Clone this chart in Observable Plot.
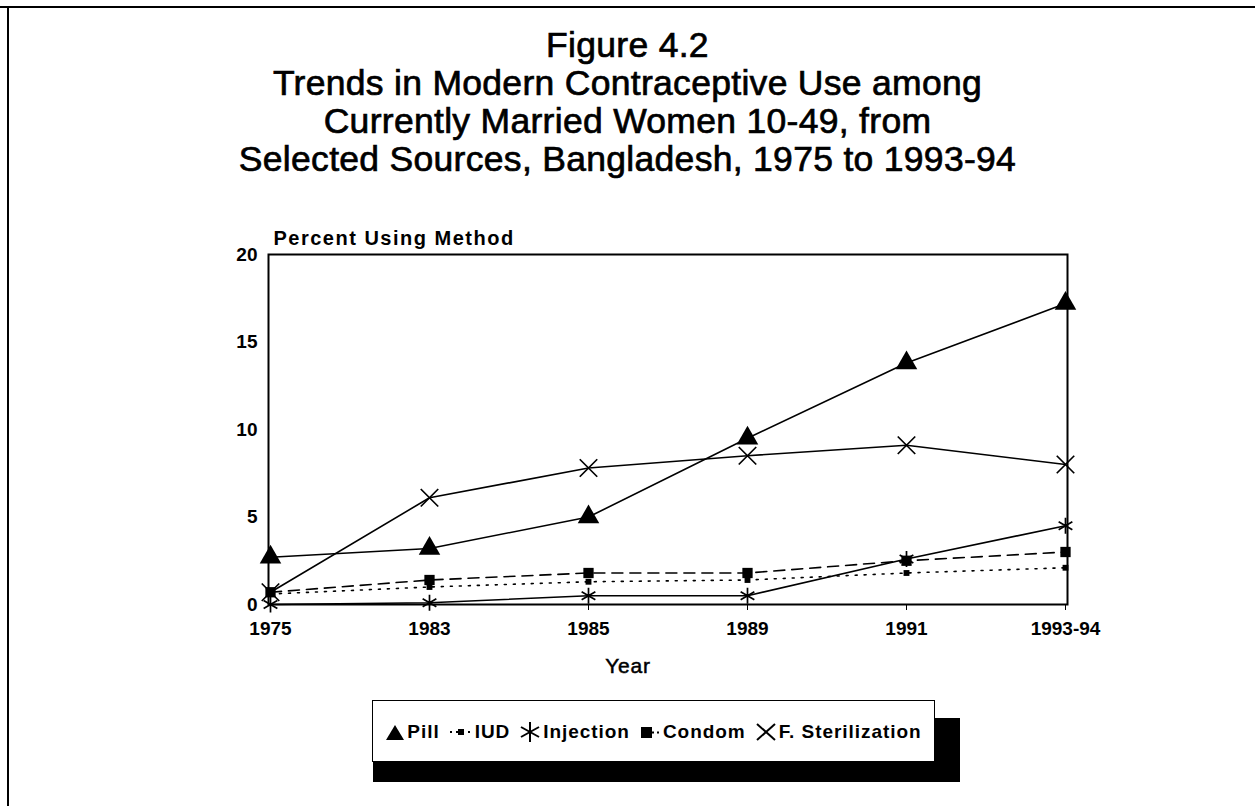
<!DOCTYPE html>
<html>
<head>
<meta charset="utf-8">
<script src="https://cdn.jsdelivr.net/npm/d3@7"></script>
<script src="https://cdn.jsdelivr.net/npm/@observablehq/plot@0.6"></script>
<style>
  body { margin: 0; background: #fff; width: 1255px; height: 806px; overflow: hidden; position: relative;
         font-family: "Liberation Sans", Arial, sans-serif; color: #000; }
  #frameTop { position: absolute; left: 0; top: 6px; width: 1255px; height: 2px; background: #000; }
  #frameLeft { position: absolute; left: 7px; top: 6px; width: 2px; height: 800px; background: #000; }
  #title { position: absolute; left: 0; top: 26px; width: 1255px; text-align: center;
           font-size: 35.5px; line-height: 38px; -webkit-text-stroke: 0.7px #000; letter-spacing: 0.3px; }
  #chart { position: absolute; left: 0; top: 200px; }
  #legShadow { position: absolute; left: 373px; top: 718px; width: 587px; height: 64px; background: #000; }
  #legend { position: absolute; left: 372px; top: 700px; width: 561px; height: 58px; border: 1.5px solid #000;
            background: #fff; display: flex; align-items: center; justify-content: center;
            font-weight: bold; font-size: 19px; gap: 9px; letter-spacing: 0.95px; padding-top: 2px; box-sizing: content-box; }
  #legend .item { display: flex; align-items: center; gap: 2px; }
</style>
</head>
<body>
<div id="frameTop"></div>
<div id="frameLeft"></div>
<div id="title">Figure 4.2<br>Trends in Modern Contraceptive Use among<br>Currently Married Women 10-49, from<br>Selected Sources, Bangladesh, 1975 to 1993-94</div>
<div id="chart"></div>
<div id="legShadow"></div>
<div id="legend"></div>
<script>
// ---- data ----
const years = ["1975", "1983", "1985", "1989", "1991", "1993-94"];
const methods = ["Pill", "IUD", "Injection", "Condom", "F. Sterilization"];
const pill = [2.7, 3.2, 5.0, 9.5, 13.8, 17.2];
const iud = [0.6, 1.0, 1.3, 1.4, 1.8, 2.1];
const injection = [0.0, 0.1, 0.5, 0.5, 2.6, 4.5];
const condom = [0.7, 1.4, 1.8, 1.8, 2.5, 3.0];
const sterilization = [0.7, 6.1, 7.8, 8.5, 9.1, 8.0];
const yTicks = [0, 5, 10, 15, 20];
const yLabel = "Percent Using Method";
const xLabel = "Year";

const seriesValues = [pill, iud, injection, condom, sterilization];
const rows = methods.flatMap((m, k) => years.map((y, i) => ({year: y, method: m, value: seriesValues[k][i]})));

const styles = {
  "Pill": {dash: null, symbol: "triangle", r: 8, fill: "#000", stroke: "none"},
  "IUD": {dash: "2,7", symbol: "square", r: 3.3, fill: "#000", stroke: "none"},
  "Injection": {dash: null, symbol: "asterisk", r: 7.5, fill: "none", stroke: "#000"},
  "Condom": {dash: "11,7", symbol: "square", r: 5.8, fill: "#000", stroke: "none"},
  "F. Sterilization": {dash: null, symbol: "times", r: 8, fill: "none", stroke: "#000"}
};

const marks = [Plot.frame({stroke: "#000", strokeWidth: 2})];
for (const m of methods) {
  const s = styles[m];
  const data = rows.filter(d => d.method === m);
  marks.push(Plot.line(data, {x: "year", y: "value", stroke: "#000", strokeWidth: 1.6,
    strokeDasharray: s.dash ?? undefined}));
}
for (const m of methods) {
  const s = styles[m];
  const data = rows.filter(d => d.method === m);
  marks.push(Plot.dot(data, {x: "year", y: "value", symbol: () => s.symbol, r: s.r,
    fill: s.fill, stroke: s.stroke, strokeWidth: 1.7}));
}
marks.push(Plot.text([yLabel], {frameAnchor: "top-left", text: d => d, dx: 5, dy: -24,
  textAnchor: "start", fontSize: 20, fontWeight: "bold", fill: "#000"}));
marks.push(Plot.text([xLabel], {frameAnchor: "bottom", text: d => d, dx: -40, dy: 68,
  fontSize: 21, fontWeight: "bold", fill: "#000"}));

const chart = Plot.plot({
  width: 1255, height: 480,
  marginTop: 54, marginBottom: 76, marginLeft: 268, marginRight: 188,
  style: {fontFamily: "'Liberation Sans', Arial, sans-serif", fontSize: "19px", fontWeight: "bold", color: "#000", background: "transparent"},
  x: {type: "point", domain: years, padding: 0, label: null, tickSize: 6, tickPadding: 11},
  y: {domain: [0, 20], ticks: yTicks, label: null, tickSize: 0, tickPadding: 11},
  symbol: {type: "identity"},
  marks
});
document.getElementById("chart").appendChild(chart);
// widen the axis-title lettering to match the original typeface
d3.select(chart).selectAll("text").filter(function() { return this.textContent === yLabel; })
  .attr("letter-spacing", "1.5px");
d3.select(chart).selectAll("text").filter(function() { return this.textContent === xLabel; })
  .attr("letter-spacing", "0.8px").attr("font-weight", "normal").attr("stroke", "#000").attr("stroke-width", 0.5);

// ---- legend ----
const icons = {
  "Pill": '<svg width="20" height="18"><path d="M10,2 L19,17 L1,17 Z" fill="#000"/></svg>',
  "IUD": '<svg width="24" height="18"><line x1="1" y1="9" x2="23" y2="9" stroke="#000" stroke-width="2" stroke-dasharray="2,4"/><rect x="9" y="6" width="6" height="6" fill="#000"/></svg>',
  "Injection": '<svg width="22" height="22"><g stroke="#000" stroke-width="2"><line x1="11" y1="1" x2="11" y2="21"/><line x1="2" y1="6" x2="20" y2="16"/><line x1="2" y1="16" x2="20" y2="6"/></g></svg>',
  "Condom": '<svg width="22" height="18"><rect x="2" y="4" width="11" height="11" fill="#000"/><line x1="13" y1="9.5" x2="21" y2="9.5" stroke="#000" stroke-width="2" stroke-dasharray="2,3"/></svg>',
  "F. Sterilization": '<svg width="22" height="22"><g stroke="#000" stroke-width="2"><line x1="2" y1="3" x2="20" y2="19"/><line x1="2" y1="19" x2="20" y2="3"/></g></svg>'
};
document.getElementById("legend").innerHTML = methods.map(m =>
  `<span class="item">${icons[m]}<span>${m}</span></span>`).join("");
</script>
</body>
</html>
